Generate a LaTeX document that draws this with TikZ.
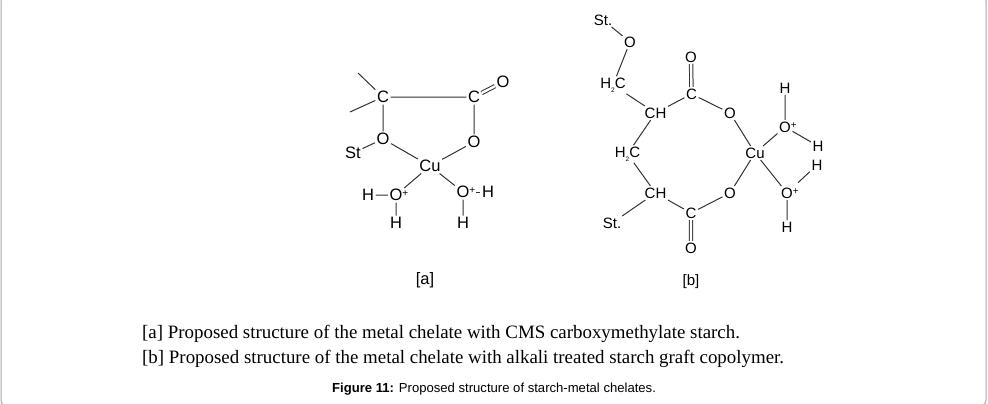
\documentclass[tikz,border=0pt]{standalone}
\usepackage{fontspec}
\setmainfont{Liberation Serif}
\setsansfont{Liberation Sans}
\newcommand\chg{\rlap{\smash{\raisebox{0.27em}{\fontsize{10}{10}\selectfont+}}}}
\newcommand\hc{H\raisebox{-0.25em}{\fontsize{6.5}{6.5}\selectfont2}C}

\begin{document}
\begin{tikzpicture}[x=1pt,y=-1pt,
        atm/.style={font=\sffamily\fontsize{16.5}{18}\selectfont,inner sep=1.5pt},
        atb/.style={font=\sffamily\fontsize{15}{17}\selectfont,inner sep=1.5pt},
        bond/.style={line width=1pt,draw=black!80},
        dbl/.style={bond,double,double distance=2.4pt},
        capline/.style={anchor=base west,inner sep=0pt,font=\fontsize{18.9}{22}\selectfont}]
        \useasboundingbox (0,0) rectangle (988,404);
        \draw[gray!70,line width=1pt,rounded corners=4pt] (1,-3) rectangle (986,405);

        \coordinate (a-m1) at (358,73);
        \coordinate (a-m2) at (350,112);
        \node[atm] (a-c1) at (383,97) {C};
        \node[atm] (a-c2) at (474,97) {C};
        \node[atm] (a-o) at (503,82) {O};
        \node[atm] (a-o1) at (383,139) {O};
        \node[atm] (a-o2) at (474,142) {O};
        \node[atm] (a-st) at (353,153) {St};
        \node[atm] (a-cu) at (430,166) {Cu};
        \node[atm] (a-ow1) at (396,195) {O\chg};
        \node[atm] (a-h1) at (368,195) {H};
        \node[atm] (a-h2) at (396,223) {H};
        \node[atm] (a-ow2) at (463,192) {O\chg};
        \node[atm] (a-h3) at (488,192) {H};
        \node[atm] (a-h4) at (463,223) {H};
        \node[atm] (a-lab) at (425,280) {[a]};
        \draw[bond] (a-m1) -- (a-c1) (a-m2) -- (a-c1) (a-c1) -- (a-c2)
            (a-c2) -- (a-o2) (a-c1) -- (a-o1) (a-st) -- (a-o1)
            (a-o1) -- (a-cu) (a-o2) -- (a-cu) (a-cu) -- (a-ow1) (a-cu) -- (a-ow2)
            (a-h1) -- (a-ow1) (a-ow1) -- (a-h2) (a-ow2) -- (a-h4);
        \draw[bond,shorten <=5pt] (a-ow2) -- (a-h3);
        \draw[dbl] (a-c2) -- (a-o);

        \node[atb] (b-st1) at (603,20) {St.};
        \node[atb] (b-o1) at (630,42) {O};
        \node[atb] (b-c1) at (613,85) {\hc};
        \node[atb] (b-ch1) at (655.5,113) {CH};
        \node[atb] (b-c2) at (691.5,94) {C};
        \node[atb] (b-o2) at (691,57) {O};
        \node[atb] (b-o3) at (730,113) {O};
        \node[atb] (b-cu) at (755,153) {Cu};
        \node[atb] (b-h1) at (785,88) {H};
        \node[atb] (b-ow1) at (785,127) {O\chg};
        \node[atb] (b-h2) at (818,146) {H};
        \node[atb] (b-c3) at (627.5,154) {\hc};
        \node[atb] (b-ch2) at (655.5,193) {CH};
        \node[atb] (b-st2) at (612,223) {St.};
        \node[atb] (b-c4) at (691,213) {C};
        \node[atb] (b-o4) at (691,248) {O};
        \node[atb] (b-o5) at (730,193) {O};
        \node[atb] (b-ow2) at (787,193) {O\chg};
        \node[atb] (b-h3) at (817,165) {H};
        \node[atb] (b-h4) at (787,227) {H};
        \node[atb] (b-lab) at (691,282) {[b]};
        \draw[bond] (b-st1) -- (b-o1) (b-o1) -- (b-c1) (b-c1) -- (b-ch1)
            (b-ch1) -- (b-c2) (b-c2) -- (b-o3) (b-o3) -- (b-cu)
            (b-h1) -- (b-ow1) (b-ow1) -- (b-cu) (b-ow1) -- (b-h2)
            (b-ch1) -- (b-c3) (b-c3) -- (b-ch2) (b-ch2) -- (b-st2)
            (b-ch2) -- (b-c4) (b-c4) -- (b-o5) (b-o5) -- (b-cu)
            (b-cu) -- (b-ow2) (b-ow2) -- (b-h4);
        \draw[bond,shorten <=5pt] (b-ow2) -- (b-h3);
        \draw[dbl] (b-c2) -- (b-o2) (b-c4) -- (b-o4);

        \node[capline] (cap-a) at (142,338) {[a] Proposed structure of the metal chelate with CMS carboxymethylate starch.};
        \node[capline] (cap-b) at (142,363) {[b] Proposed structure of the metal chelate with alkali treated starch graft copolymer.};
        \node[anchor=base west,inner sep=0pt,font=\sffamily\fontsize{13.1}{15}\selectfont] (fig) at (332,392) {\textbf{Figure 11:} Proposed structure of starch-metal chelates.};
    \end{tikzpicture}
\end{document}
